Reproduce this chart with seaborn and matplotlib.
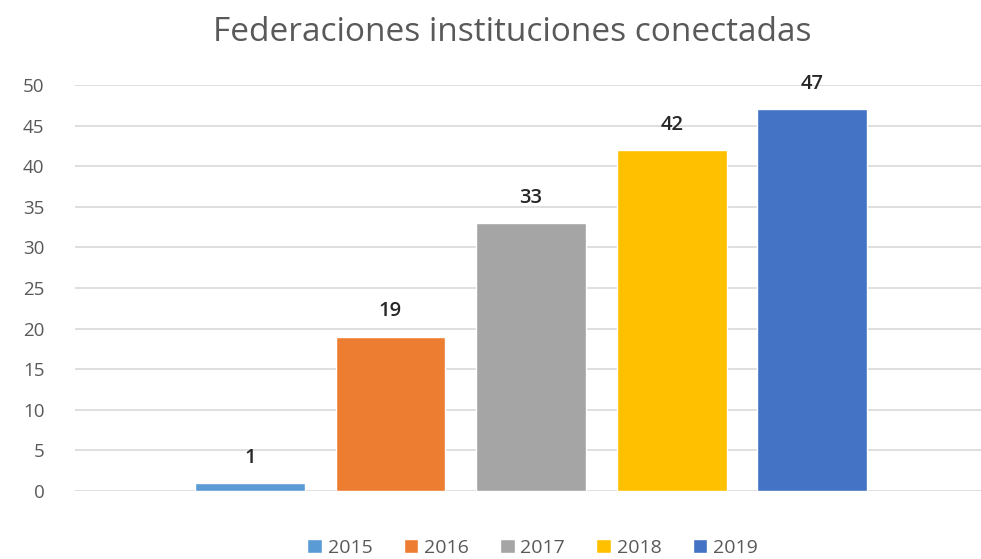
import pandas as pd
import seaborn as sns
import matplotlib.pyplot as plt

# datos
anios = ['2015', '2016', '2017', '2018', '2019']
valores = [1, 19, 33, 42, 47]
colores = ['#5B9BD5', '#ED7D31', '#A5A5A5', '#FFC000', '#4472C4']

df = pd.DataFrame({'grupo': ['Federaciones'] * len(anios), 'anio': anios, 'valor': valores})

sns.set_style('white')
plt.rcParams['font.family'] = ['Open Sans', 'DejaVu Sans']

fig = plt.figure(figsize=(9.81, 5.59), dpi=100)
ax = fig.add_axes([75 / 981, 68 / 559, 906 / 981, 406 / 559])

sns.barplot(data=df, x='grupo', y='valor', hue='anio', palette=colores, saturation=1,
            width=0.8, gap=0.22, ax=ax, legend=True)

ax.set_ylim(0, 50)
ax.set_xlim(-0.519, 0.512)
ax.set_yticks(range(0, 51, 5))
ax.yaxis.grid(True, color='#d9d9d9', linewidth=1.2)
ax.set_axisbelow(True)
for s in ax.spines.values():
    s.set_visible(False)
ax.set_xticks([])
ax.set_xlabel('')
ax.set_ylabel('')
ax.tick_params(axis='y', labelsize=13.5, colors='#595959', length=0, pad=22)

# etiquetas de valor
for cont in ax.containers:
    ax.bar_label(cont, fmt='%d', padding=11, fontsize=14.5, color='#262626', fontweight='semibold')

ax.set_title('Federaciones instituciones conectadas', fontsize=24, color='#595959', pad=32, x=0.483)

leg = ax.legend(loc='upper center', bbox_to_anchor=(0.505, -0.075), ncol=5, frameon=False,
                fontsize=14, handlelength=0.75, handleheight=0.75, handletextpad=0.3,
                columnspacing=1.6)
for t in leg.get_texts():
    t.set_color('#595959')

plt.savefig('out.png', dpi=100)
